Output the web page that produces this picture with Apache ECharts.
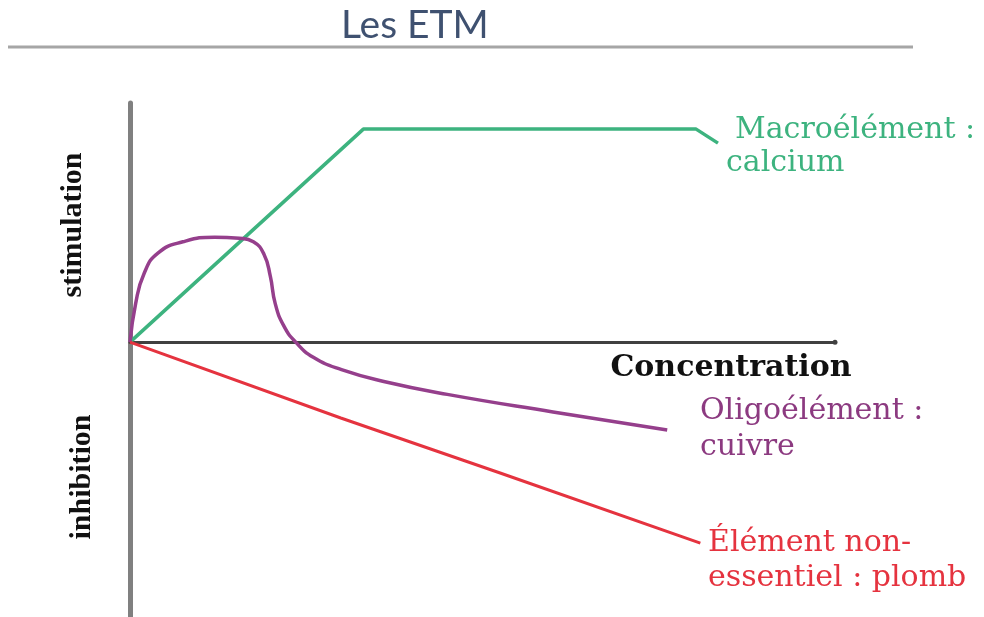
<!DOCTYPE html>
<html>
<head>
<meta charset="utf-8">
<script src="https://cdn.jsdelivr.net/npm/echarts@6/dist/echarts.min.js"></script>
<style>
  html, body { margin: 0; padding: 0; background: #fff; }
  #chart { width: 984px; height: 617px; }
</style>
</head>
<body>
<div id="chart"></div>
<script>
// courbes : [concentration, réponse]
const calcium = [[0, 0], [33.1, 77.5], [80.3, 77.5], [83.4, 72.4]]
const cuivre = [
  [0, 0], [0.8, 14], [2, 25], [4, 32.5], [7.5, 36.5], [12, 38.2], [15.5, 37.8],
  [17.5, 36.5], [19, 32], [19.9, 24], [20.6, 14], [21.8, 6], [23.5, 0],
  [26, -5.5], [30, -10], [36, -14.3], [45, -19], [60, -25.4], [76.2, -32]
]
const plomb = [[0, 0], [29.9, -27.6], [52.5, -47.6], [80.9, -73.1]]

const seriesNames = ['Macroélément : calcium', 'Oligoélément : cuivre', 'Élément non-essentiel : plomb']
const seriesColors = ['#3db37f', '#953f8c', '#e5333f']

const chart = echarts.init(document.getElementById('chart'))

const labelFont = '30px "DejaVu Serif"'

let option = {
  animation: false,
  title: {
    text: 'Les ETM',
    left: 336,
    top: 1,
    textStyle: {
      fontFamily: 'Lato',
      fontWeight: 'normal',
      fontSize: 39,
      color: '#3f5170'
    }
  },
  grid: { left: 130, right: 149, top: 103, bottom: 0 },
  xAxis: {
    type: 'value',
    min: 0,
    max: 100,
    axisLine: {
      onZero: true,
      symbol: ['none', 'circle'],
      symbolSize: [5, 5],
      lineStyle: { color: '#404040', width: 3 }
    },
    axisTick: { show: false },
    axisLabel: { show: false },
    splitLine: { show: false }
  },
  yAxis: {
    type: 'value',
    min: -100,
    max: 87,
    axisLine: { show: true, lineStyle: { color: '#808080', width: 5 } },
    axisTick: { show: false },
    axisLabel: { show: false },
    splitLine: { show: false }
  },
  series: [
    {
      name: seriesNames[0],
      type: 'line',
      data: calcium,
      symbol: 'none',
      lineStyle: { color: seriesColors[0], width: 3.5 }
    },
    {
      name: seriesNames[1],
      type: 'line',
      data: cuivre,
      symbol: 'none',
      smooth: 0.5,
      lineStyle: { color: seriesColors[1], width: 3.5 }
    },
    {
      name: seriesNames[2],
      type: 'line',
      data: plomb,
      symbol: 'none',
      lineStyle: { color: seriesColors[2], width: 3 }
    }
  ],
  graphic: [
    {
      type: 'line',
      shape: { x1: 8, y1: 47, x2: 913, y2: 47 },
      style: { stroke: '#a6a6a6', lineWidth: 3 }
    },
    {
      type: 'text', x: 731, y: 368,
      style: { text: 'Concentration', font: 'bold 30px "DejaVu Serif"', fill: '#111', align: 'center', verticalAlign: 'middle' }
    },
    {
      type: 'text', x: 73, y: 225, rotation: Math.PI / 2,
      style: { text: 'stimulation', font: 'bold 30px "Liberation Serif"', fill: '#111', align: 'center', verticalAlign: 'middle' }
    },
    {
      type: 'text', x: 82, y: 477, rotation: Math.PI / 2,
      style: { text: 'inhibition', font: 'bold 30px "Liberation Serif"', fill: '#111', align: 'center', verticalAlign: 'middle' }
    },
    {
      type: 'text', x: 735, y: 130,
      style: { text: 'Macroélément :', font: labelFont, fill: seriesColors[0], verticalAlign: 'middle' }
    },
    {
      type: 'text', x: 726, y: 163,
      style: { text: 'calcium', font: labelFont, fill: seriesColors[0], verticalAlign: 'middle' }
    },
    {
      type: 'text', x: 700, y: 411,
      style: { text: 'Oligoélément :', font: labelFont, fill: '#8c3a80', verticalAlign: 'middle' }
    },
    {
      type: 'text', x: 700, y: 447,
      style: { text: 'cuivre', font: labelFont, fill: '#8c3a80', verticalAlign: 'middle' }
    },
    {
      type: 'text', x: 708, y: 543,
      style: { text: 'Élément non-', font: labelFont, fill: seriesColors[2], verticalAlign: 'middle' }
    },
    {
      type: 'text', x: 708, y: 578,
      style: { text: 'essentiel : plomb', font: labelFont, fill: seriesColors[2], verticalAlign: 'middle' }
    }
  ]
}

chart.setOption(option)
</script>
</body>
</html>
